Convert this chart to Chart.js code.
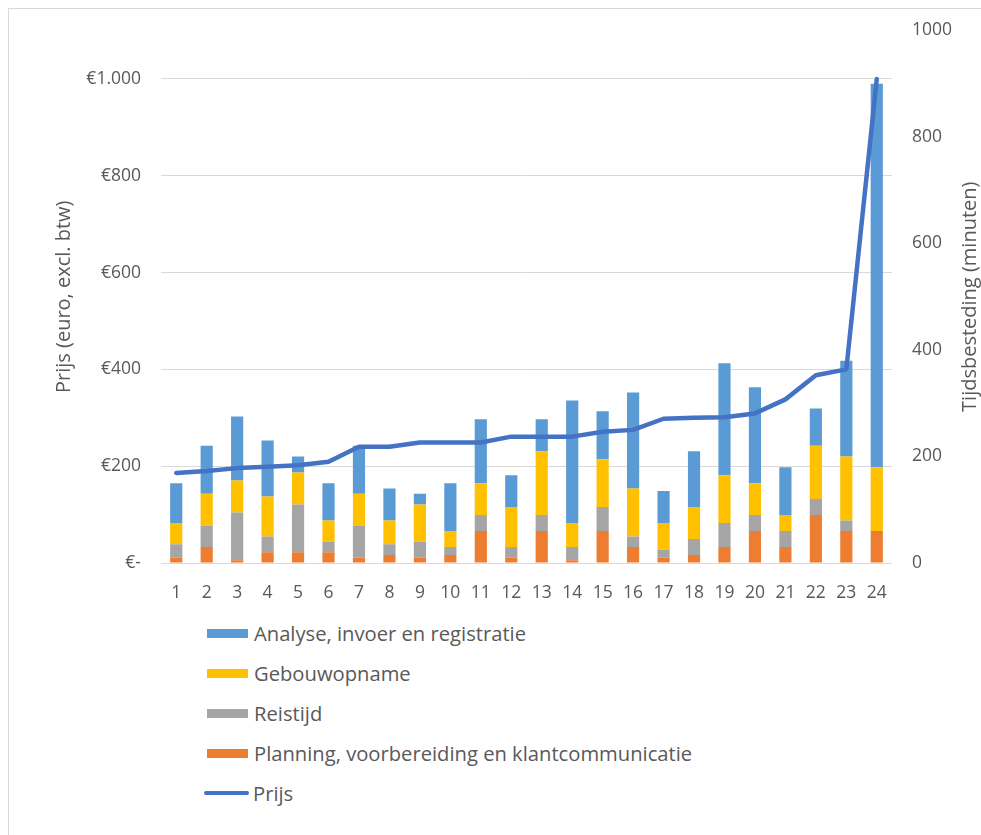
<!DOCTYPE html>
<html>
<head>
<meta charset="utf-8">
<script src="https://cdn.jsdelivr.net/npm/chart.js@4.4.0/dist/chart.umd.min.js"></script>
<style>
  body { margin: 0; background: #fff; font-family: "Open Sans", sans-serif; }
  #frame { position: absolute; left: 8px; top: 8px; width: 1000px; height: 900px; border: 1px solid #d9d9d9; }
  #chart { position: absolute; left: 0; top: 0; }
  #legend { position: absolute; left: 204px; top: 613px; color: #595959; font-size: 20.2px; }
  .item { height: 40px; display: flex; align-items: center; }
  .swatch { width: 41px; height: 9px; margin-right: 6px; margin-left: 3px; }
  .line { width: 45px; height: 4px; border-radius: 2px; margin-right: 4px; margin-left: 0; }
</style>
</head>
<body>
<div id="frame"></div>
<canvas id="chart" width="981" height="600"></canvas>
<div id="legend"></div>
<script>
const categories = ['1','2','3','4','5','6','7','8','9','10','11','12','13','14','15','16','17','18','19','20','21','22','23','24'];

// minuten per onderdeel
const planning     = [10, 30, 5, 20, 20, 20, 10, 15, 10, 15, 60, 10, 60, 5, 60, 30, 10, 15, 30, 60, 30, 90, 60, 60];
const reistijd     = [25, 40, 90, 30, 90, 20, 60, 20, 30, 15, 30, 20, 30, 25, 45, 20, 15, 30, 45, 30, 30, 30, 20, 0];
const gebouwopname = [40, 60, 60, 75, 60, 40, 60, 45, 70, 30, 60, 75, 120, 45, 90, 90, 50, 60, 90, 60, 30, 100, 120, 120];
const analyse      = [75, 90, 120, 105, 30, 70, 90, 60, 20, 90, 120, 60, 60, 230, 90, 180, 60, 105, 210, 180, 90, 70, 180, 720];

// prijs in euro
const prijs = [186, 190, 196, 199, 202, 209, 240, 240, 249, 249, 249, 261, 261, 261, 271, 275, 298, 300, 301, 309, 338, 388, 400, 1000];

const textColor = '#595959';
const gridColor = '#d9d9d9';

function euro(v) {
  if (v === 0) return '€-';
  return '€' + String(v).replace(/\B(?=(\d{3})+(?!\d))/g, '.');
}

const rightTitle = {
  id: 'rightTitle',
  afterDraw(chart) {
    const s = chart.scales.y1;
    const ctx = chart.ctx;
    ctx.save();
    ctx.translate(970, (s.top + s.bottom) / 2);
    ctx.rotate(-Math.PI / 2);
    ctx.font = '20px "Open Sans"';
    ctx.fillStyle = textColor;
    ctx.textAlign = 'center';
    ctx.textBaseline = 'middle';
    ctx.fillText('Tijdsbesteding (minuten)', 0, 0);
    ctx.restore();
  }
};

const data = {
  labels: categories,
  datasets: [
    { type: 'line', label: 'Prijs', data: prijs, yAxisID: 'y', borderColor: '#4472C4', backgroundColor: '#4472C4',
      borderWidth: 4.5, pointRadius: 0, tension: 0, borderCapStyle: 'round', borderJoinStyle: 'round', order: 0 },
    { type: 'bar', label: 'Planning, voorbereiding en klantcommunicatie', data: planning, yAxisID: 'y1', backgroundColor: '#ED7D31', order: 1 },
    { type: 'bar', label: 'Reistijd', data: reistijd, yAxisID: 'y1', backgroundColor: '#A5A5A5', order: 1 },
    { type: 'bar', label: 'Gebouwopname', data: gebouwopname, yAxisID: 'y1', backgroundColor: '#FFC000', order: 1 },
    { type: 'bar', label: 'Analyse, invoer en registratie', data: analyse, yAxisID: 'y1', backgroundColor: '#5B9BD5', order: 1 }
  ]
};

const config = {
  type: 'bar',
  data: data,
  options: {
    responsive: false,
    animation: false,
    devicePixelRatio: 1,
    layout: { padding: { top: 30, bottom: 0, left: 0, right: 0 } },
    datasets: { bar: { barPercentage: 0.4, categoryPercentage: 1 } },
    plugins: { legend: { display: false }, tooltip: { enabled: false } },
    scales: {
      x: {
        stacked: true,
        grid: { display: false },
        border: { display: false },
        ticks: { color: textColor, font: { family: 'Open Sans', size: 17.5 }, padding: 12, maxRotation: 0 },
        afterFit: s => { s.height = 37; }
      },
      y: {
        position: 'left',
        min: 0, max: 1100,
        afterBuildTicks: s => { s.ticks = s.ticks.filter(t => t.value <= 1000); },
        ticks: { stepSize: 200, callback: v => euro(v), color: textColor, font: { family: 'Open Sans', size: 17.5 }, padding: 20 },
        grid: { color: gridColor, lineWidth: 1, drawTicks: false },
        border: { display: false },
        title: { display: true, text: 'Prijs (euro, excl. btw)', color: textColor, font: { family: 'Open Sans', size: 20 }, padding: { top: 52, bottom: 0 } },
        afterFit: s => { s.width = 161; }
      },
      y1: {
        position: 'right',
        stacked: true,
        min: 0, max: 1000,
        ticks: { stepSize: 200, callback: v => String(v), color: textColor, font: { family: 'Open Sans', size: 17.5 }, padding: 20 },
        grid: { drawOnChartArea: false, drawTicks: false },
        border: { display: false },
        afterFit: s => { s.width = 89; }
      }
    }
  },
  plugins: [rightTitle]
};

const chart = new Chart(document.getElementById('chart'), config);

// legend in Excel volgorde
const legendOrder = ['Analyse, invoer en registratie', 'Gebouwopname', 'Reistijd', 'Planning, voorbereiding en klantcommunicatie', 'Prijs'];
const legendEl = document.getElementById('legend');
legendOrder.forEach(name => {
  const ds = chart.data.datasets.find(d => d.label === name);
  const item = document.createElement('div');
  item.className = 'item';
  const sw = document.createElement('span');
  sw.className = ds.type === 'line' ? 'line' : 'swatch';
  sw.style.background = ds.type === 'line' ? ds.borderColor : ds.backgroundColor;
  const txt = document.createElement('span');
  txt.textContent = ds.label;
  item.appendChild(sw);
  item.appendChild(txt);
  legendEl.appendChild(item);
});
</script>
</body>
</html>
